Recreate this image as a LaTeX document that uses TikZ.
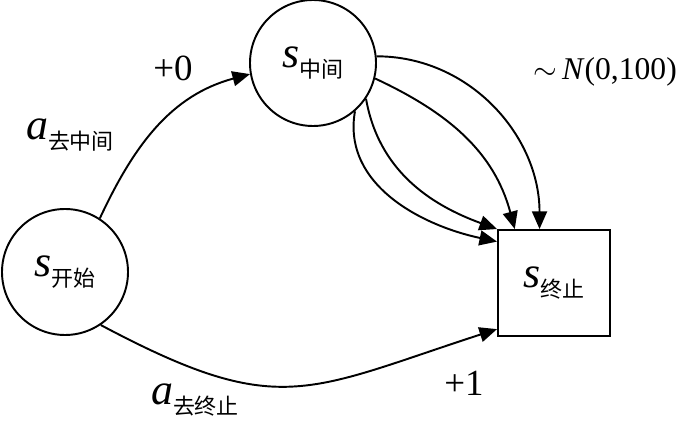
\documentclass[tikz,border=0pt]{standalone}
\usepackage{fontspec}
\setmainfont{Liberation Serif}
\newfontfamily\cjk{Noto Sans CJK SC}
\usetikzlibrary{arrows.meta}

% state name with a CJK subscript
\newcommand{\stname}[2]{{\fontsize{25}{25}\selectfont\itshape #1}\raisebox{-6pt}{\fontsize{12.5}{14}\selectfont\cjk #2}}

\begin{document}
\begin{tikzpicture}[
  st/.style={draw, circle, minimum size=2.52cm, inner sep=1pt},
  term/.style={draw, rectangle, minimum width=2.24cm, minimum height=2.12cm, inner sep=1pt},
  rw/.style={font=\fontsize{21}{21}\selectfont, inner sep=1pt},
  >={Triangle[length=10pt,width=8.5pt]}, line width=1.1pt
]
  \useasboundingbox (0,0) rectangle (13.64,8.54);

  \node[st]   (start) at (1.30,3.10)  {\stname{s}{开始}};
  \node[st]   (mid)   at (6.26,7.28)  {\stname{s}{中间}};
  \node[term] (end)   at (11.08,2.88) {\stname{s}{终止}};

  \draw[->] (start.57)  to[out=65,in=195]  (mid.190);
  \draw[->] (start.-56) to[out=-28,in=198,looseness=1.3] (end.219);

  \draw[->] (mid.6)   to[out=0,in=90]    (end.105);
  \draw[->] (mid.-14) to[out=-25,in=105] (end.126);
  \draw[->] (mid.-34) to[out=-80,in=160] (end.north west);
  \draw[->] (mid.-49) to[out=-100,in=168] (end.144);

  \node[rw] (r0)   at (3.46,7.18)  {+0};
  \node     (amid) at (1.40,5.84)  {\stname{a}{去中间}};
  \node[rw] (r1)   at (9.28,0.88)  {+1};
  \node     (aend) at (3.90,0.54)  {\stname{a}{去终止}};
  \node[rw, font=\fontsize{18}{18}\selectfont] (rn) at (12.10,7.10) {$\sim$\,\textit{N}(0,100)};
\end{tikzpicture}
\end{document}
